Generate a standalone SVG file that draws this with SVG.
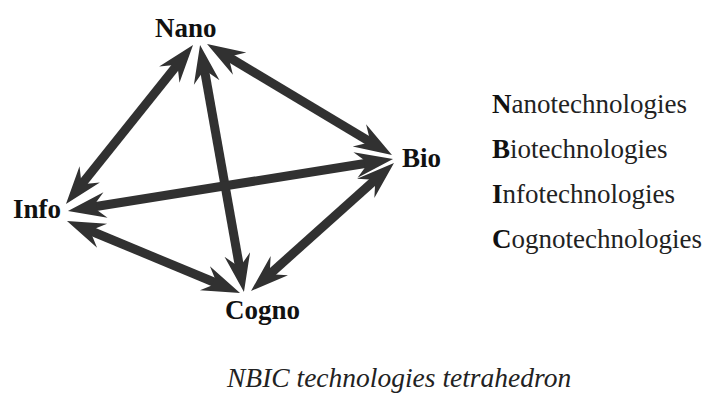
<svg xmlns="http://www.w3.org/2000/svg" width="715" height="401" viewBox="0 0 715 401">
<style>
.lbl{font-weight:bold;font-size:27px;fill:#111}
.leg{font-size:27px;fill:#222}
.leg tspan{font-weight:bold;fill:#111}
.cap{font-style:italic;font-size:27.5px;fill:#222}
.arr{stroke:#313131;stroke-width:9;fill:none;marker-start:url(#ah);marker-end:url(#ah)}
</style>
<defs>
<marker id="ah" markerUnits="userSpaceOnUse" markerWidth="60" markerHeight="40" viewBox="-20 -20 50 40" refX="0" refY="0" orient="auto-start-reverse" overflow="visible">
<path d="M22,0 L-16,-13 L-7,-4 L-7,4 L-16,13 Z" fill="#313131"/>
</marker>
</defs>
<rect width="715" height="401" fill="#fff"/>
<g id="connectors">
<line class="arr" x1="179.3" y1="62.2" x2="79.7" y2="186.8"/>
<line class="arr" x1="203.9" y1="66.7" x2="240.1" y2="270.3"/>
<line class="arr" x1="225.9" y1="55.3" x2="373.1" y2="143.7"/>
<line class="arr" x1="89.7" y1="207.5" x2="371.3" y2="162.5"/>
<line class="arr" x1="87.3" y1="229.5" x2="219.7" y2="284.5"/>
<line class="arr" x1="267.4" y1="276.3" x2="377.6" y2="177.7"/>
</g>
<g font-family="'Liberation Serif', 'DejaVu Serif', serif">
<g id="nano"><text class="lbl" x="155" y="37">Nano</text></g>
<g id="bio"><text class="lbl" x="402" y="167">Bio</text></g>
<g id="info"><text class="lbl" x="13" y="218">Info</text></g>
<g id="cogno"><text class="lbl" x="225" y="319">Cogno</text></g>
<g id="legend">
<text class="leg" x="492" y="113"><tspan>N</tspan>anotechnologies</text>
<text class="leg" x="492" y="158"><tspan>B</tspan>iotechnologies</text>
<text class="leg" x="492" y="203"><tspan>I</tspan>nfotechnologies</text>
<text class="leg" x="492" y="248"><tspan>C</tspan>ognotechnologies</text>
</g>
<g id="caption"><text class="cap" x="227" y="387">NBIC technologies tetrahedron</text></g>
</g>
</svg>
